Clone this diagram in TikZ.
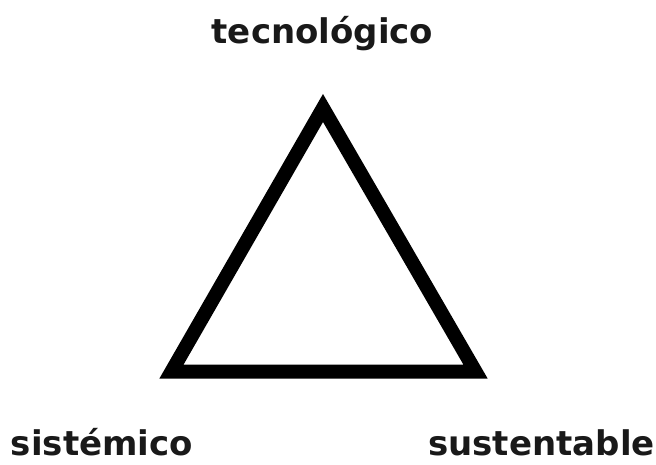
\documentclass[tikz,border=0pt]{standalone}
\usepackage{fontspec}
\setmainfont{DejaVu Sans}
\begin{document}
\begin{tikzpicture}[x=1pt,y=-1pt,
  lbl/.style={font=\fontsize{34}{40}\selectfont\bfseries, anchor=base, inner sep=0pt, text=black!90},
  tri/.style={draw=black, line width=14pt, line join=miter}]
\useasboundingbox (0,0) rectangle (656,465);
\coordinate (top) at (323,108);
\coordinate (bl) at (171.5,371.5);
\coordinate (br) at (475.5,371.5);
\draw[tri] (top) -- (bl) -- (br) -- cycle;
\node[lbl] (tec) at (322.5,44) {tecnológico};
\node[lbl] (sis) at (102,455) {sistémico};
\node[lbl] (sus) at (541.5,455) {sustentable};
\end{tikzpicture}
\end{document}
